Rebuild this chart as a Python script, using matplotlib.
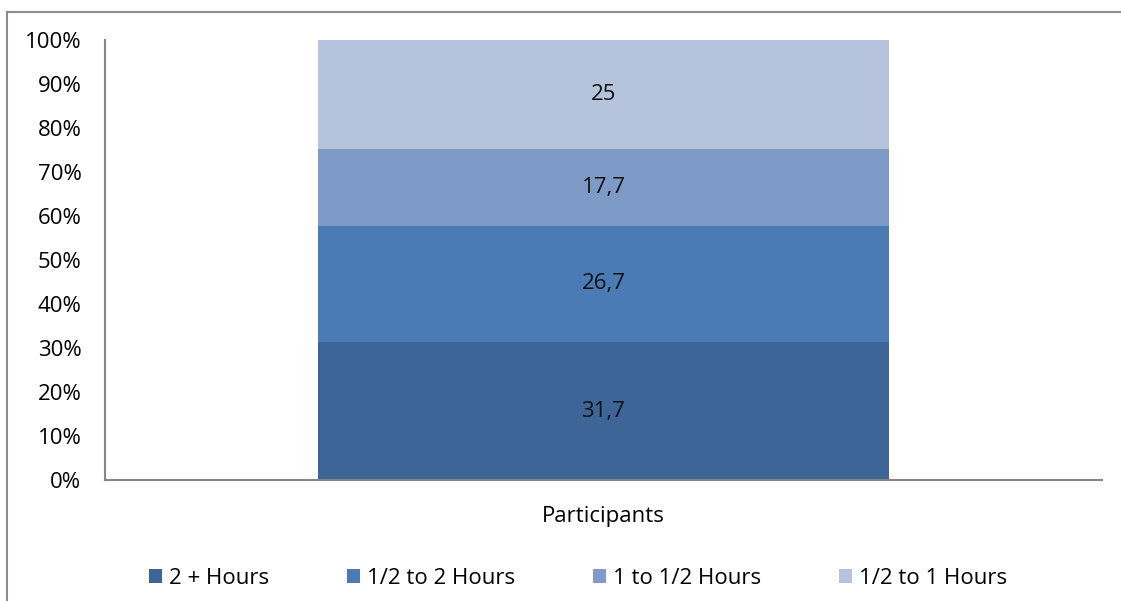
import matplotlib
matplotlib.use("Agg")
import matplotlib.pyplot as plt
from matplotlib.patches import Rectangle
import numpy as np

plt.rcParams['font.family'] = ['Open Sans', 'DejaVu Sans']

category = ['Participants']
series = ['2 + Hours', '1/2 to 2 Hours', '1 to 1/2 Hours', '1/2 to 1 Hours']
values = [31.7, 26.7, 17.7, 25]
colors = ['#3D6597', '#4A7BB5', '#7E9BC7', '#B5C3DD']

fs = 16
W, H = 1121, 601
fig = plt.figure(figsize=(W / 100, H / 100), dpi=100)
ax = fig.add_axes([105 / W, 1 - 480 / H, (1102 - 105) / W, (480 - 40) / H])

# outer chart frame (only left/top visible in the reference)
fig.patches.append(Rectangle((7 / W, -0.1), 1.2, 1 - 12 / H + 0.1, transform=fig.transFigure,
                             fill=False, edgecolor='#8c8c8c', linewidth=1.5))

total = sum(values)
shares = [v / total for v in values]
bottom = 0
for name, v, s, c in zip(series, values, shares, colors):
    ax.bar(0, s, width=0.572, bottom=bottom, color=c, label=name)
    ax.text(0, bottom + s / 2, str(v).replace('.', ','), ha='center', va='center', fontsize=fs, color='#111111')
    bottom += s

ax.set_xlim(-0.5, 0.5)
ax.set_ylim(0, 1)
ax.set_yticks(np.arange(0, 1.01, 0.1))
ax.set_yticklabels([f'{int(round(t * 100))}%' for t in np.arange(0, 1.01, 0.1)], fontsize=fs)
ax.set_xticks([0])
ax.set_xticklabels(category, fontsize=fs)
ax.tick_params(axis='both', length=0)
ax.tick_params(axis='y', pad=17)
ax.tick_params(axis='x', pad=19)
for side in ['top', 'right']:
    ax.spines[side].set_visible(False)
for side in ['left', 'bottom']:
    ax.spines[side].set_color('#868686')
    ax.spines[side].set_linewidth(1.5)

fig.legend(loc='center', bbox_to_anchor=(578 / W, 1 - 578 / H), ncol=4, frameon=False,
           fontsize=fs, handlelength=0.6, handleheight=0.6, handletextpad=0.3,
           columnspacing=3.5)

fig.savefig('out.png', dpi=100)
